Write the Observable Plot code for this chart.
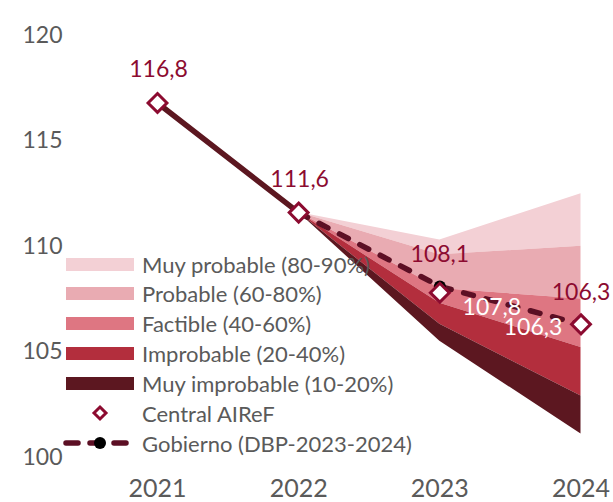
<!DOCTYPE html>
<html>
<head>
<meta charset="utf-8">
<script src="https://cdn.jsdelivr.net/npm/d3@7"></script>
<script src="https://cdn.jsdelivr.net/npm/@observablehq/plot@0.6"></script>
<style>
  body { margin: 0; background: #fff; font-family: Lato, "Open Sans", sans-serif; }
  #wrap { position: relative; width: 613px; height: 502px; }
  #legend { position: absolute; left: 0; top: 0; width: 613px; height: 502px; pointer-events: none; }
  .row { position: absolute; left: 63px; height: 30px; display: flex; align-items: center; }
  .row .key { width: 72px; height: 30px; display: flex; align-items: center; justify-content: flex-start; }
  .row .lab { margin-left: 7px; font-size: 22px; color: #5a5a5a; white-space: nowrap; }
</style>
</head>
<body>
<div id="wrap"><div id="legend"></div></div>
<script>
// ---- data ----
const years = [2021, 2022, 2023, 2024];
const central = [116.8, 111.6, 107.8, 106.3];      // Central AIReF
const gobierno = [null, 111.6, 108.1, 106.3];     // Gobierno (DBP-2023-2024)
const fanYears = [2022, 2023, 2024];
// fan edges, bottom to top
const edge0 = [111.6, 105.5, 101.1];
const edge1 = [111.6, 106.3, 102.9];
const edge2 = [111.6, 107.3, 105.2];
const edge3 = [111.6, 108.0, 107.5];
const edge4 = [111.6, 109.6, 110.0];
const edge5 = [111.6, 110.3, 112.5];
const bandLabels = ["Muy probable (80-90%)", "Probable (60-80%)", "Factible (40-60%)", "Improbable (20-40%)", "Muy improbable (10-20%)"];
const bandColors = ["#f3d0d5", "#e9abb2", "#de7682", "#b32e3d", "#5c1720"];
const yTicks = [100, 105, 110, 115, 120];
const xTicks = [2021, 2022, 2023, 2024];
const fmt = v => v.toFixed(1).replace(".", ",");

// ---- build tables ----
const edges = [edge0, edge1, edge2, edge3, edge4, edge5];
// band k (0 = muy probable, top) lies between edges[4-k] and edges[5-k]
const bands = bandLabels.map((lab, k) => fanYears.map((yr, j) => ({
  band: lab, year: yr, lo: edges[4 - k][j], hi: edges[5 - k][j]
})));
const centralRows = years.map((yr, i) => ({year: yr, v: central[i]}));
const histRows = centralRows.filter(d => d.year <= 2022);
const govRows = years.map((yr, i) => ({year: yr, v: gobierno[i]})).filter(d => d.v != null);

const labelColor = "#8c0b30";
const labelOpts = {fontSize: 23, fontFamily: "Lato, sans-serif"};

const chart = Plot.plot({
  width: 613,
  height: 502,
  marginLeft: 157,
  marginRight: 32.5,
  marginTop: 35,
  marginBottom: 45.3,
  style: {fontFamily: "Lato, sans-serif", background: "transparent"},
  x: {domain: [2021, 2024], type: "linear"},
  y: {domain: [100, 120]},
  marks: [
    ...bands.map((rows, k) => Plot.areaY(rows, {x: "year", y1: "lo", y2: "hi", fill: bandColors[k], curve: "linear"})),
    Plot.line(histRows, {x: "year", y: "v", stroke: "#5c1720", strokeWidth: 5.5}),
    Plot.line(govRows, {x: "year", y: "v", stroke: "#5c0f24", strokeWidth: 5.5, strokeDasharray: "10,13", strokeLinecap: "round"}),
    Plot.dot(govRows.filter(d => d.year === 2023), {x: "year", y: "v", r: 6, fill: "black"}),
    Plot.dot(centralRows, {x: "year", y: "v", symbol: "diamond2", r: 8.5, fill: "white", stroke: labelColor, strokeWidth: 3}),
    // labels
    Plot.text(centralRows.filter(d => d.year <= 2022), {x: "year", y: "v", text: d => fmt(d.v), dy: -33, dx: 1, fill: labelColor, ...labelOpts}),
    Plot.text(govRows.filter(d => d.year >= 2023), {x: "year", y: "v", text: d => fmt(d.v), dy: -32, fill: labelColor, ...labelOpts}),
    Plot.text(centralRows.filter(d => d.year === 2023), {x: "year", y: "v", text: d => fmt(d.v), dx: 52, dy: 15, fill: "white", ...labelOpts}),
    Plot.text(centralRows.filter(d => d.year === 2024), {x: "year", y: "v", text: d => fmt(d.v), dx: -48, dy: 3, fill: "white", ...labelOpts}),
    Plot.axisY(yTicks, {tickSize: 0, tickPadding: 95, label: null, fontSize: 23, color: "#5a5a5a", tickFormat: d => String(d)}),
    Plot.axisX(xTicks, {tickSize: 0, tickPadding: 22, label: null, fontSize: 25, color: "#5a5a5a", tickFormat: d => String(d)})
  ]
});
document.getElementById("wrap").prepend(chart);

// ---- legend overlay ----
const legend = document.getElementById("legend");
const rowY = [264, 293.5, 323, 353, 383, 413, 443];
bandLabels.forEach((lab, k) => {
  const row = document.createElement("div");
  row.className = "row";
  row.style.top = (rowY[k] - 15) + "px";
  row.innerHTML = `<div class="key"><div style="margin-left:3px;width:68px;height:13px;background:${bandColors[k]}"></div></div><div class="lab">${lab}</div>`;
  legend.appendChild(row);
});
{
  const row = document.createElement("div");
  row.className = "row";
  row.style.top = (rowY[5] - 15) + "px";
  row.innerHTML = `<div class="key"><svg width="72" height="30"><polygon points="37,9 43,15 37,21 31,15" fill="white" stroke="${labelColor}" stroke-width="3"/></svg></div><div class="lab">Central AIReF</div>`;
  legend.appendChild(row);
}
{
  const row = document.createElement("div");
  row.className = "row";
  row.style.top = (rowY[6] - 15) + "px";
  row.innerHTML = `<div class="key"><svg width="72" height="30"><line x1="3" y1="15" x2="66" y2="15" stroke="#5c0f24" stroke-width="5.5" stroke-dasharray="12,12" stroke-linecap="round"/><circle cx="37" cy="15" r="6" fill="black"/></svg></div><div class="lab">Gobierno (DBP-2023-2024)</div>`;
  legend.appendChild(row);
}
</script>
</body>
</html>
